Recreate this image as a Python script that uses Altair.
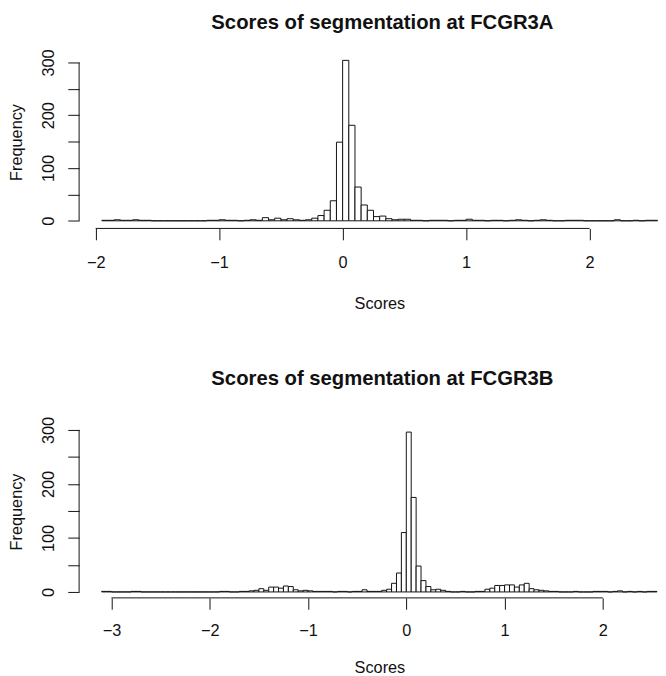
import altair as alt
import pandas as pd

# ---------------- data ----------------
BIN_WIDTH = 0.05

A_TITLE = "Scores of segmentation at FCGR3A"
A_START = -1.95
A_COUNTS = [
    1, 1, 2, 1, 1, 2, 1, 1, 0,                      # -1.95 .. -1.55
    0, 0, 0, 0, 0, 0, 0, 0,                         # -1.50 .. -1.15
    1, 1, 2, 1, 1, 0, 1, 2, 1, 6, 2, 5, 2, 4, 2, 1, 2, 5, 10, 20, 38, 149,   # -1.10 .. -0.05
    304, 181, 64, 30, 20, 8, 9, 4, 2, 3, 3, 1, 1, 0, 1, 1, 1, 0, 1, 1,     # 0.00 .. 0.95
    3, 1, 1, 0, 1, 1, 0, 1, 2, 1, 0, 1, 2, 1, 0, 0, 1, 1, 1, 0,            # 1.00 .. 1.95
    0, 0, 0, 0, 2, 0, 0, 1, 0, 1, 1,                                       # 2.00 .. 2.50
]
A_XTICKS = [-2, -1, 0, 1, 2]

B_TITLE = "Scores of segmentation at FCGR3B"
B_START = -3.10
B_COUNTS = [
    1, 1, 0, 0, 0, 0, 1, 1, 0,                                             # -3.10 .. -2.70
    0, 0, 0, 0, 0, 0, 0, 0, 0, 0, 0, 0, 0, 0, 0,                           # -2.65 .. -1.95
    1, 1, 0, 0, 1, 1, 2, 3, 6, 3, 9, 9, 7, 11, 10, 4, 2, 3, 2,             # -1.90 .. -1.00
    1, 1, 1, 1, 0, 1, 1, 0, 1, 1, 4, 1, 1, 1, 3, 5, 16, 35, 110,           # -0.95 .. -0.05
    296, 175, 48, 21, 10, 4, 5, 3, 1, 0, 0, 1, 0, 0, 1, 1, 5, 7, 12, 12,   # 0.00 .. 0.95
    13, 13, 9, 13, 16, 6, 4, 3, 2, 1, 1, 0, 0, 0, 1, 0, 0, 0, 1, 1,        # 1.00 .. 1.95
    1, 0, 1, 2, 0, 1, 0, 1, 0, 1, 1,                                       # 2.00 .. 2.50
]
B_XTICKS = [-3, -2, -1, 0, 1, 2]

Y_TICKS = [0, 50, 100, 150, 200, 250, 300]
Y_LINE = [0, 300]
X_LABEL = "Scores"
Y_LABEL = "Frequency"

FONT = "Liberation Sans"
INK = "#111111"
PLOT_W = 586
PLOT_H = 175


def panel(title, start, counts, xticks, xdom, ydom, title_offset, label_pad, xtitle_y):
    lefts = [round(start + i * BIN_WIDTH, 2) for i in range(len(counts))]
    rights = [round(v + BIN_WIDTH, 2) for v in lefts]
    df = pd.DataFrame({"lo": lefts, "hi": rights, "count": counts})

    xs = alt.Scale(domain=xdom, nice=False, zero=False)
    ys = alt.Scale(domain=ydom, nice=False, zero=False)

    x_axis = alt.Axis(
        values=xticks, domain=False, grid=False, format="d",
        tickSize=11.5, tickWidth=1, tickColor=INK,
        labelPadding=label_pad, labelFont=FONT, labelFontSize=16.5, labelColor=INK,
        labelFlush=False, labelOverlap=False, labelBound=False,
        title=X_LABEL, titleFont=FONT, titleFontSize=16.5, titleFontWeight="normal",
        titleColor=INK, titleX=304, titleY=xtitle_y, titleAlign="center",
        titleBaseline="middle",
    )
    y_axis = alt.Axis(
        values=Y_TICKS, domain=False, grid=False,
        labelExpr="datum.value % 100 === 0 ? datum.label : ''",
        tickSize=11.5, tickWidth=1, tickColor=INK,
        labelPadding=19.5, labelFont=FONT, labelFontSize=16.5, labelColor=INK,
        labelAngle=270, labelAlign="center", labelBaseline="middle",
        labelOverlap=False, labelBound=False, labelFlush=False,
        title=Y_LABEL, titleFont=FONT, titleFontSize=16.5, titleFontWeight="normal",
        titleColor=INK, titleAngle=270, titleX=-55.5, titleY=PLOT_H / 2,
        titleAlign="center", titleBaseline="bottom",
    )

    bars = alt.Chart(df).mark_rect(fill="white", stroke=INK, strokeWidth=1).encode(
        x=alt.X("lo:Q", scale=xs, axis=x_axis),
        x2="hi:Q",
        y=alt.Y("count:Q", scale=ys, axis=y_axis),
        y2=alt.datum(0),
    )

    xline_df = pd.DataFrame({"lo": [min(xticks)], "hi": [max(xticks)], "count": [ydom[0]]})
    xline = alt.Chart(xline_df).mark_rule(color=INK, strokeWidth=1).encode(
        x=alt.X("lo:Q", scale=xs, axis=x_axis),
        x2="hi:Q",
        y=alt.Y("count:Q", scale=ys, axis=y_axis),
    )
    yline_df = pd.DataFrame({"lo": [xdom[0]], "count": [Y_LINE[0]], "top": [Y_LINE[1]]})
    yline = alt.Chart(yline_df).mark_rule(color=INK, strokeWidth=1).encode(
        x=alt.X("lo:Q", scale=xs, axis=x_axis),
        y=alt.Y("count:Q", scale=ys, axis=y_axis),
        y2="top:Q",
    )

    return alt.layer(bars, xline, yline).properties(
        width=PLOT_W, height=PLOT_H,
        title=alt.TitleParams(
            title, font=FONT, fontSize=20.5, fontWeight="bold", color=INK,
            anchor="middle", frame="group", dx=14, offset=title_offset,
        ),
    )


top = panel(A_TITLE, A_START, A_COUNTS, A_XTICKS, [-2.134, 2.554], [-14.4, 313.1], 16, 15, 76)
bottom = panel(B_TITLE, B_START, B_COUNTS, B_XTICKS, [-3.329, 2.561], [-11.0, 309.1], 27, 14, 71)

chart = (
    alt.vconcat(top, bottom, spacing=57)
    .properties(padding={"left": 0, "top": 0, "right": 0, "bottom": 0}, background="white")
    .configure_view(stroke=None)
)

chart.save("out.html", embed_options={"renderer": "svg", "actions": False})
